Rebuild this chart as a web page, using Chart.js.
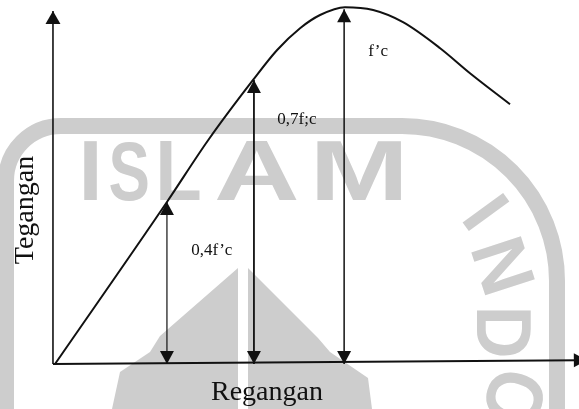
<!DOCTYPE html>
<html lang="id">
<head>
<meta charset="UTF-8">
<title>Tegangan - Regangan</title>
<script src="https://cdn.jsdelivr.net/npm/chart.js@4.4.0/dist/chart.umd.min.js"></script>
<style>
  html, body { margin: 0; padding: 0; background: #fff; }
  #grafik { display: block; }
</style>
</head>
<body>
<canvas id="grafik" width="579" height="409"></canvas>
<script>
// kurva tegangan-regangan beton (regangan relatif thd regangan puncak, tegangan relatif thd f'c)
const regangan = [0, 0.386, 0.528, 0.683, 0.766, 0.845, 0.914, 1.0, 1.097, 1.2, 1.328, 1.431, 1.569];
const tegangan = [0, 0.454, 0.627, 0.796, 0.880, 0.941, 0.978, 1.0, 0.992, 0.958, 0.885, 0.815, 0.728];

// panah vertikal (posisi regangan, tinggi tegangan) + labelnya
const panahX = [0.386, 0.686, 0.997];
const panahY = [0.454, 0.796, 0.994];
const panahLebar = [1.2, 1.8, 1.5];
const panahLabel = ["0,4f\u2019c", "0,7f;c", "f\u2019c"];
const labelX = [0.541, 0.834, 1.114];
const labelY = [0.319, 0.686, 0.877];

// ujung sumbu
const sumbuX0 = -0.007;
const sumbuXEnd = 1.834;
const sumbuYEnd = 0.989;

const abuWM = '#cdcdcd';

function kepalaPanah(ctx, tip, dari, len, half, warna) {
    let dx = tip.x - dari.x, dy = tip.y - dari.y;
    let d = Math.sqrt(dx*dx + dy*dy) || 1;
    dx /= d; dy /= d;
    let bx = tip.x - dx*len, by = tip.y - dy*len;
    ctx.beginPath();
    ctx.moveTo(tip.x, tip.y);
    ctx.lineTo(bx - dy*half, by + dx*half);
    ctx.lineTo(bx + dy*half, by - dx*half);
    ctx.closePath();
    ctx.fillStyle = warna;
    ctx.fill();
}

// huruf watermark digambar dengan lebar ditentukan (x kiri, x kanan, atas, bawah)
function hurufWM(ctx, ch, x1, x2, top, bottom) {
    ctx.save();
    ctx.font = 'bold 80px "Liberation Sans"';
    let m = ctx.measureText(ch);
    let w = m.actualBoundingBoxLeft + m.actualBoundingBoxRight;
    let h = m.actualBoundingBoxAscent;
    ctx.translate(x1, bottom);
    ctx.scale((x2 - x1) / w, (bottom - top) / h);
    ctx.fillText(ch, m.actualBoundingBoxLeft, 0);
    ctx.restore();
}

function hurufPutar(ctx, ch, cx, cy, rot, w, h) {
    ctx.save();
    ctx.font = 'bold 80px "Liberation Sans"';
    let m = ctx.measureText(ch);
    let mw = m.actualBoundingBoxLeft + m.actualBoundingBoxRight;
    let mh = m.actualBoundingBoxAscent;
    ctx.translate(cx, cy);
    ctx.rotate(rot * Math.PI / 180);
    ctx.scale(w / mw, h / mh);
    ctx.fillText(ch, -mw/2 + m.actualBoundingBoxLeft, mh/2);
    ctx.restore();
}

const latarPlugin = {
    id: 'latar',
    beforeDraw(chart) {
        const ctx = chart.ctx;
        ctx.save();
        ctx.fillStyle = '#fff';
        ctx.fillRect(0, 0, chart.width, chart.height);

        // cincin logo
        ctx.strokeStyle = abuWM;
        ctx.lineWidth = 16;
        ctx.beginPath();
        ctx.moveTo(6, 460);
        ctx.lineTo(6, 185);
        ctx.arcTo(6, 126, 60, 126, 55);
        ctx.lineTo(400, 126);
        ctx.arcTo(557, 126, 557, 280, 155);
        ctx.lineTo(557, 460);
        ctx.stroke();

        ctx.fillStyle = abuWM;
        hurufWM(ctx, 'I', 84, 97, 142, 200);
        hurufWM(ctx, 'S', 110, 148, 142, 200);
        hurufWM(ctx, 'L', 160, 200, 142, 200);
        hurufWM(ctx, 'A', 217, 297, 142, 200);
        hurufWM(ctx, 'M', 317, 402, 142, 200);

        hurufPutar(ctx, 'I', 486, 212, 54, 11, 50);
        hurufPutar(ctx, 'N', 503, 266, 72, 46, 52);
        hurufPutar(ctx, 'D', 504, 333, 90, 46, 54);
        hurufPutar(ctx, 'O', 515, 398, 106, 50, 56);

        // kubah
        ctx.beginPath();
        ctx.moveTo(238, 268); ctx.lineTo(160, 336); ctx.lineTo(150, 352);
        ctx.lineTo(120, 372); ctx.lineTo(112, 409); ctx.lineTo(238, 409);
        ctx.closePath(); ctx.fill();
        ctx.beginPath();
        ctx.moveTo(248, 268); ctx.lineTo(318, 338); ctx.lineTo(330, 352);
        ctx.lineTo(368, 378); ctx.lineTo(372, 409); ctx.lineTo(248, 409);
        ctx.closePath(); ctx.fill();
        ctx.restore();
    }
};

const panahPlugin = {
    id: 'panah',
    afterDatasetsDraw(chart) {
        const ctx = chart.ctx;
        chart.data.datasets.forEach((ds, i) => {
            if (!ds.kepala) return;
            const pts = chart.getDatasetMeta(i).data;
            const k = ds.kepala;
            if (k.akhir) kepalaPanah(ctx, pts[pts.length-1], pts[pts.length-2], k.len, k.half, '#111');
            if (k.awal) kepalaPanah(ctx, pts[0], pts[1], k.len, k.half, '#111');
        });

        const sx = chart.scales.x, sy = chart.scales.y;
        ctx.save();
        ctx.fillStyle = '#111';
        ctx.textAlign = 'center';
        ctx.textBaseline = 'middle';
        ctx.font = '17px "Liberation Serif"';
        panahLabel.forEach((t, i) => {
            ctx.fillText(t, sx.getPixelForValue(labelX[i]), sy.getPixelForValue(labelY[i]));
        });

        ctx.font = '28px "Liberation Serif"';
        ctx.fillText('Regangan', 267, 393);
        ctx.translate(26, 210);
        ctx.rotate(-Math.PI / 2);
        ctx.fillText('Tegangan', 0, 0);
        ctx.restore();
    }
};

const datasets = [
    {
        label: 'kurva',
        data: regangan.map((x, i) => ({ x: x, y: tegangan[i] })),
        borderColor: '#111',
        borderWidth: 2,
        cubicInterpolationMode: 'monotone'
    },
    {
        label: 'sumbu y',
        data: [{ x: sumbuX0, y: 0 }, { x: sumbuX0, y: sumbuYEnd }],
        borderColor: '#111',
        borderWidth: 1.6,
        kepala: { akhir: true, len: 13, half: 7.5 }
    },
    {
        label: 'sumbu x',
        data: [{ x: sumbuX0, y: 0 }, { x: sumbuXEnd, y: 0.011 }],
        borderColor: '#111',
        borderWidth: 2,
        kepala: { akhir: true, len: 13, half: 7 }
    }
];

panahX.forEach((x, i) => {
    datasets.push({
        label: panahLabel[i],
        data: [{ x: x, y: 0 }, { x: x, y: panahY[i] }],
        borderColor: '#111',
        borderWidth: panahLebar[i],
        kepala: { awal: true, akhir: true, len: 13, half: 7 }
    });
});

const ctx = document.getElementById('grafik').getContext('2d');
const grafik = new Chart(ctx, {
    type: 'line',
    data: { datasets: datasets },
    options: {
        responsive: false,
        animation: false,
        events: [],
        layout: { padding: { left: 55, right: 2, top: 0, bottom: 45 } },
        datasets: { line: { clip: false, pointRadius: 0, fill: false } },
        plugins: { legend: { display: false }, tooltip: { enabled: false } },
        scales: {
            x: { type: 'linear', min: 0, max: 1.8, display: false },
            y: { type: 'linear', min: 0, max: 1.02, display: false }
        }
    },
    plugins: [latarPlugin, panahPlugin]
});
</script>
</body>
</html>
